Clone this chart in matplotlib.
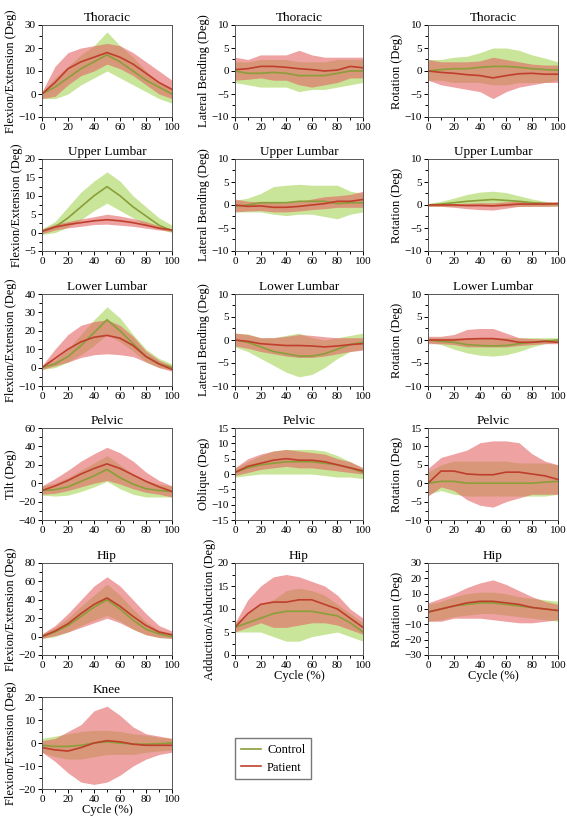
import numpy as np
import matplotlib
matplotlib.use("Agg")
import matplotlib.pyplot as plt
from matplotlib.ticker import MultipleLocator, AutoMinorLocator

plt.rcParams['font.family'] = ['Liberation Serif', 'DejaVu Serif']

cycle = [0, 10, 20, 30, 40, 50, 60, 70, 80, 90, 100]

# ---- Thoracic ----
th_fe_c = [0, 3, 7, 11, 14, 17, 14, 10, 6, 3, 0]
th_fe_c_hi = [1, 7, 12, 17, 21, 27, 21, 16, 10, 5, 2]
th_fe_c_lo = [-2, -2, 0, 4, 7, 10, 7, 4, 1, -2, -4]
th_fe_p = [0, 5, 11, 14, 16, 18, 16, 13, 9, 5, 2]
th_fe_p_hi = [1, 12, 18, 20, 21, 22, 21, 18, 14, 10, 6]
th_fe_p_lo = [-2, -1, 4, 8, 10, 13, 11, 8, 4, 0, -2]

th_lb_c = [0, -0.5, -0.5, -0.3, -0.5, -1, -1, -1, -0.5, 0, 0]
th_lb_c_hi = [2, 2, 2.5, 2.5, 2.5, 2, 2, 2, 2.5, 2.5, 2.5]
th_lb_c_lo = [-2.5, -3, -3.5, -3.5, -3.5, -4.5, -4, -4, -3.5, -3, -2.5]
th_lb_p = [0.3, 0.5, 1, 1, 0.8, 0.5, 0.3, 0, 0.2, 1, 0.7]
th_lb_p_hi = [3, 2.5, 3.5, 3.5, 3.5, 4.5, 3.5, 3, 3, 3, 3]
th_lb_p_lo = [-2, -1.8, -1.5, -2, -2, -3, -3.5, -3, -2.5, -1.5, -1.5]

th_rot_c = [0, 0.3, 0.5, 0.5, 0.8, 1, 1, 0.8, 0.5, 0.3, 0.2]
th_rot_c_hi = [2.5, 2.5, 3, 3.2, 4, 5, 5, 4.5, 3.5, 2.8, 2]
th_rot_c_lo = [-2, -2, -2.5, -2.5, -2.5, -3, -3, -2.5, -2.5, -2.5, -2]
th_rot_p = [0, -0.3, -0.5, -0.8, -1, -1.5, -1, -0.6, -0.5, -0.7, -0.7]
th_rot_p_hi = [2.5, 2, 2, 2, 2.2, 3, 2.5, 2, 1.5, 1.3, 1.3]
th_rot_p_lo = [-2, -3, -3.5, -4, -4.5, -6, -4.5, -3.5, -3, -2.5, -2.5]

# ---- Upper Lumbar ----
ul_fe_c = [0.5, 1.5, 4, 7, 10, 12.5, 10, 7, 4.5, 2, 0.5]
ul_fe_c_hi = [1, 3, 7, 11, 14, 16.5, 14, 10, 7, 4, 2]
ul_fe_c_lo = [-0.5, 0, 1.5, 3.5, 6, 8, 6, 4, 2, 1, 0]
ul_fe_p = [0.3, 1.5, 2.2, 2.7, 3.2, 3.5, 3.2, 2.7, 2, 1.2, 0.7]
ul_fe_p_hi = [1, 2.3, 3, 3.7, 4.3, 5, 4.5, 3.8, 3, 1.8, 1]
ul_fe_p_lo = [-0.3, 0.7, 1.3, 1.7, 2.2, 2.3, 2, 1.7, 1.2, 0.7, 0.3]

ul_lb_c = [-0.3, 0, 0.5, 0.5, 0.5, 0.8, 0.8, 0.8, 0.3, 0.5, 0.5]
ul_lb_c_hi = [1, 1.5, 2.5, 4, 4.3, 4.5, 4.3, 4.3, 4.3, 3, 2.5]
ul_lb_c_lo = [-1.5, -1.5, -1.5, -2, -2.3, -2, -2, -2.5, -3, -2, -1.5]
ul_lb_p = [0, -0.3, -0.2, -0.5, -0.5, -0.3, 0, 0.3, 0.8, 0.8, 1.2]
ul_lb_p_hi = [1.3, 0.8, 0.7, 0.5, 0.5, 0.8, 1.3, 1.8, 2, 2.3, 3]
ul_lb_p_lo = [-1.5, -1.3, -1.2, -1.5, -1.5, -1.3, -1, -0.8, -0.5, -0.5, -0.5]

ul_rot_c = [0, 0.2, 0.5, 0.8, 1, 1.2, 1, 0.8, 0.5, 0.3, 0.2]
ul_rot_c_hi = [0.3, 0.8, 1.5, 2.3, 2.8, 3, 2.7, 2, 1.3, 0.8, 0.5]
ul_rot_c_lo = [-0.3, -0.3, -0.3, -0.3, -0.2, -0.2, -0.3, -0.3, -0.3, -0.3, -0.3]
ul_rot_p = [0, 0, 0, -0.1, -0.1, -0.2, 0, 0.2, 0.2, 0.2, 0.3]
ul_rot_p_hi = [0.3, 0.3, 0.3, 0.4, 0.5, 0.5, 0.7, 0.8, 0.7, 0.7, 0.7]
ul_rot_p_lo = [-0.3, -0.3, -0.5, -0.8, -1, -1.1, -0.7, -0.3, -0.3, -0.3, -0.2]

# ---- Lower Lumbar ----
ll_fe_c = [0, 2, 6, 12, 19, 26, 20, 13, 6, 2, 0]
ll_fe_c_hi = [1, 4, 10, 18, 26, 33, 27, 18, 10, 5, 2]
ll_fe_c_lo = [-1, 0, 3, 7, 12, 18, 14, 9, 3, 0, -1]
ll_fe_p = [0, 5, 10, 14, 16.5, 17.5, 16, 12, 6, 2, -1]
ll_fe_p_hi = [1, 10, 18, 23, 25, 26, 23, 17, 9, 4, 1]
ll_fe_p_lo = [-1, 1, 3, 5.5, 7, 7.5, 7, 6, 3, 0, -2]

ll_lb_c = [0, -0.5, -1.5, -2.5, -3, -3.5, -3.5, -3, -2, -1, -0.5]
ll_lb_c_hi = [1.5, 1.3, 0.5, 0.5, 1, 1.5, 0.5, 0, 0.5, 1, 1.5]
ll_lb_c_lo = [-1.5, -2.5, -4, -5.5, -7, -8, -7.5, -6, -4, -2.5, -2]
ll_lb_p = [0, -0.3, -0.8, -1, -1.2, -1.2, -1.3, -1.5, -1.3, -1, -0.8]
ll_lb_p_hi = [1.5, 1.2, 0.5, 0.5, 0.8, 1.2, 1, 0.7, 0.5, 0.5, 0.5]
ll_lb_p_lo = [-1.3, -1.8, -2.5, -3, -3.5, -3.8, -3.8, -3.5, -3, -2.5, -2.2]

ll_rot_c = [0, -0.3, -0.5, -1, -1.2, -1.3, -1.2, -0.8, -0.5, -0.2, 0]
ll_rot_c_hi = [0.5, 0.5, 0.5, 0.5, 0.5, 0.5, 0.5, 0.5, 0.5, 0.5, 0.5]
ll_rot_c_lo = [-0.5, -1, -2, -2.8, -3.3, -3.5, -3.2, -2.5, -1.5, -0.8, -0.5]
ll_rot_p = [0, 0, 0, 0.2, 0.3, 0.3, 0, -0.5, -0.5, -0.3, -0.5]
ll_rot_p_hi = [0.8, 0.8, 1.2, 2.3, 2.5, 2.5, 1.5, 0.5, 0.3, 0.2, 0]
ll_rot_p_lo = [-0.8, -0.8, -1, -1.5, -1.5, -1.5, -1.5, -1.2, -1, -0.8, -0.8]

# ---- Pelvic ----
pv_tilt_c = [-8, -7, -4, 2, 8, 15, 6, -1, -6, -8, -9]
pv_tilt_c_hi = [-3, 0, 6, 14, 22, 30, 20, 10, 3, -1, -3]
pv_tilt_c_lo = [-13, -14, -13, -9, -4, 2, -6, -12, -15, -15, -15]
pv_tilt_p = [-8, -3, 3, 10, 16, 21, 16, 9, 2, -4, -9]
pv_tilt_p_hi = [-3, 5, 14, 24, 32, 39, 33, 24, 12, 3, -3]
pv_tilt_p_lo = [-12, -11, -8, -4, 0, 3, -1, -6, -10, -12, -15]

pv_obl_c = [0.5, 2, 3, 3.5, 4, 4, 4, 3.5, 3, 2, 0.5]
pv_obl_c_hi = [2, 4, 6, 7.5, 8, 8, 8, 7.5, 6, 4, 2]
pv_obl_c_lo = [-1, -0.5, 0, 0, 0, 0, 0, -0.5, -1, -1, -1.5]
pv_obl_p = [0.5, 2.5, 3.5, 4.5, 5, 4.5, 4.5, 4, 3, 2, 1]
pv_obl_p_hi = [2, 5, 6.5, 7.5, 8, 7.5, 7, 6.5, 5, 4, 2]
pv_obl_p_lo = [-0.5, 0.5, 1.5, 2, 2.5, 2, 2, 1.5, 1, 0.5, 0]

pv_rot_c = [0, 0.5, 0.5, 0, 0, 0, 0, 0, 0, 0.3, 0.5]
pv_rot_c_hi = [3, 5, 6, 6, 6, 6, 6, 5.5, 5.5, 5.5, 5]
pv_rot_c_lo = [-3, -2, -3, -3.5, -3.5, -3.5, -3.5, -3.5, -3.5, -3.5, -3]
pv_rot_p = [0, 3.3, 3.3, 2.5, 2.3, 2.3, 3, 3, 2.5, 2, 1]
pv_rot_p_hi = [4, 7, 8, 9, 11, 11.5, 11.5, 11, 8, 6, 5]
pv_rot_p_lo = [-3.5, -1, -2, -4.5, -6, -6.5, -5, -4, -3, -3, -3]

# ---- Hip ----
hp_fe_c = [0, 5, 12, 22, 32, 40, 30, 18, 8, 3, 0]
hp_fe_c_hi = [3, 10, 20, 33, 45, 57, 45, 30, 16, 7, 3]
hp_fe_c_lo = [-2, 0, 5, 12, 18, 23, 17, 8, 2, -1, -2]
hp_fe_p = [0, 6, 14, 25, 35, 42, 33, 22, 12, 5, 2]
hp_fe_p_hi = [3, 12, 25, 40, 55, 65, 55, 40, 25, 12, 6]
hp_fe_p_lo = [-2, 1, 5, 10, 15, 20, 15, 8, 2, -1, -2]

hp_aa_c = [6, 7, 8, 9, 9.5, 9.5, 9.5, 9, 8.5, 7, 5]
hp_aa_c_hi = [7, 9, 11, 12, 14, 14.5, 14, 13, 11, 9, 7]
hp_aa_c_lo = [5, 5, 5, 4, 3, 3, 4, 4.5, 5, 4, 3]
hp_aa_p = [6, 9, 11, 11.5, 11.5, 12, 12, 11, 10, 8, 6]
hp_aa_p_hi = [7, 12, 15, 17, 17.5, 17, 16, 15, 13, 10, 8]
hp_aa_p_lo = [5, 6, 7, 6, 6, 6.5, 7, 7, 6.5, 5.5, 4.5]

hp_rot_c = [-2, 0, 2, 3, 4, 4, 3, 2, 1, 0, -1]
hp_rot_c_hi = [3, 5, 8, 10, 11, 11, 10, 8, 7, 6, 5]
hp_rot_c_lo = [-8, -7, -5, -4, -3, -3, -4, -5, -6, -7, -8]
hp_rot_p = [-2, 0, 2, 4, 5, 5, 4, 3, 1, 0, -1]
hp_rot_p_hi = [4, 7, 10, 14, 17, 19, 16, 12, 8, 5, 3]
hp_rot_p_lo = [-8, -8, -6, -6, -6, -7, -8, -9, -9, -8, -7]

# ---- Knee ----
kn_fe_c = [-1, -1.5, -1.5, -1, 0, 0.5, 0, -0.5, -0.5, -0.3, 0]
kn_fe_c_hi = [2, 3, 4, 5, 5.5, 5.5, 5, 4, 3.5, 2.5, 2]
kn_fe_c_lo = [-4, -6, -7, -7, -6, -5, -5, -5, -4, -3.5, -3]
kn_fe_p = [-2, -3, -3.5, -2, 0, 1, 0.5, -0.5, -1, -1, -1]
kn_fe_p_hi = [1, 2, 5, 8, 14, 16, 12, 7, 4, 3, 2]
kn_fe_p_lo = [-4, -8, -13, -17, -18, -17, -14, -10, -7, -5, -4]

row_titles = ["Thoracic", "Upper Lumbar", "Lower Lumbar", "Pelvic", "Hip", "Knee"]

panels = [
    # row, col, ylabel, ylim, ystep, control (mean, lo, hi), patient (mean, lo, hi)
    (0, 0, "Flexion/Extension (Deg)", (-10, 30), 10, (th_fe_c, th_fe_c_lo, th_fe_c_hi), (th_fe_p, th_fe_p_lo, th_fe_p_hi)),
    (0, 1, "Lateral Bending (Deg)", (-10, 10), 5, (th_lb_c, th_lb_c_lo, th_lb_c_hi), (th_lb_p, th_lb_p_lo, th_lb_p_hi)),
    (0, 2, "Rotation (Deg)", (-10, 10), 5, (th_rot_c, th_rot_c_lo, th_rot_c_hi), (th_rot_p, th_rot_p_lo, th_rot_p_hi)),
    (1, 0, "Flexion/Extension (Deg)", (-5, 20), 5, (ul_fe_c, ul_fe_c_lo, ul_fe_c_hi), (ul_fe_p, ul_fe_p_lo, ul_fe_p_hi)),
    (1, 1, "Lateral Bending (Deg)", (-10, 10), 5, (ul_lb_c, ul_lb_c_lo, ul_lb_c_hi), (ul_lb_p, ul_lb_p_lo, ul_lb_p_hi)),
    (1, 2, "Rotation (Deg)", (-10, 10), 5, (ul_rot_c, ul_rot_c_lo, ul_rot_c_hi), (ul_rot_p, ul_rot_p_lo, ul_rot_p_hi)),
    (2, 0, "Flexion/Extension (Deg)", (-10, 40), 10, (ll_fe_c, ll_fe_c_lo, ll_fe_c_hi), (ll_fe_p, ll_fe_p_lo, ll_fe_p_hi)),
    (2, 1, "Lateral Bending (Deg)", (-10, 10), 5, (ll_lb_c, ll_lb_c_lo, ll_lb_c_hi), (ll_lb_p, ll_lb_p_lo, ll_lb_p_hi)),
    (2, 2, "Rotation (Deg)", (-10, 10), 5, (ll_rot_c, ll_rot_c_lo, ll_rot_c_hi), (ll_rot_p, ll_rot_p_lo, ll_rot_p_hi)),
    (3, 0, "Tilt (Deg)", (-40, 60), 20, (pv_tilt_c, pv_tilt_c_lo, pv_tilt_c_hi), (pv_tilt_p, pv_tilt_p_lo, pv_tilt_p_hi)),
    (3, 1, "Oblique (Deg)", (-15, 15), 5, (pv_obl_c, pv_obl_c_lo, pv_obl_c_hi), (pv_obl_p, pv_obl_p_lo, pv_obl_p_hi)),
    (3, 2, "Rotation (Deg)", (-10, 15), 5, (pv_rot_c, pv_rot_c_lo, pv_rot_c_hi), (pv_rot_p, pv_rot_p_lo, pv_rot_p_hi)),
    (4, 0, "Flexion/Extension (Deg)", (-20, 80), 20, (hp_fe_c, hp_fe_c_lo, hp_fe_c_hi), (hp_fe_p, hp_fe_p_lo, hp_fe_p_hi)),
    (4, 1, "Adduction/Abduction (Deg)", (0, 20), 5, (hp_aa_c, hp_aa_c_lo, hp_aa_c_hi), (hp_aa_p, hp_aa_p_lo, hp_aa_p_hi)),
    (4, 2, "Rotation (Deg)", (-30, 30), 10, (hp_rot_c, hp_rot_c_lo, hp_rot_c_hi), (hp_rot_p, hp_rot_p_lo, hp_rot_p_hi)),
    (5, 0, "Flexion/Extension (Deg)", (-20, 20), 10, (kn_fe_c, kn_fe_c_lo, kn_fe_c_hi), (kn_fe_p, kn_fe_p_lo, kn_fe_p_hi)),
]

W, H = 567, 822
col_left = [42, 235, 428]
col_width = [130, 128, 130]
row_top = [25, 159, 294, 428, 563, 697]
ax_h = 92

ctrl_line = '#8a9e3a'
ctrl_fill = '#a6d455'
pat_line = '#bf3f2c'
pat_fill = '#e36464'

fig = plt.figure(figsize=(W / 100, H / 100), dpi=100)

for row, col, ylab, ylim, ystep, ctrl, pat in panels:
    ax = fig.add_axes([col_left[col] / W, 1 - (row_top[row] + ax_h) / H,
                       col_width[col] / W, ax_h / H])
    ax.fill_between(cycle, ctrl[1], ctrl[2], color=ctrl_fill, alpha=0.6, lw=0)
    ax.fill_between(cycle, pat[1], pat[2], color=pat_fill, alpha=0.6, lw=0)
    ax.plot(cycle, ctrl[0], color=ctrl_line, lw=1.2, label="Control")
    ax.plot(cycle, pat[0], color=pat_line, lw=1.2, label="Patient")
    ax.set_xlim(0, 100)
    ax.set_ylim(*ylim)
    ax.xaxis.set_major_locator(MultipleLocator(20))
    ax.xaxis.set_minor_locator(AutoMinorLocator(2))
    ax.yaxis.set_major_locator(MultipleLocator(ystep))
    ax.yaxis.set_minor_locator(AutoMinorLocator(2))
    ax.tick_params(which='both', labelsize=8, length=3, width=0.7, pad=1.5)
    ax.tick_params(which='minor', length=2)
    for s in ax.spines.values():
        s.set_linewidth(0.7)
        s.set_color('#555555')
    ax.set_ylabel(ylab, fontsize=9, labelpad=1)
    ax.set_title(row_titles[row], fontsize=9.5, pad=3)
    if row == 5 or (row == 4 and col > 0):
        ax.set_xlabel("Cycle (%)", fontsize=9, labelpad=0)
    if row == 5:
        handles, labels = ax.get_legend_handles_labels()

fig.legend(handles, labels, loc='upper left',
           bbox_to_anchor=(229 / W, 1 - 732 / H), fontsize=9,
           frameon=True, fancybox=False, edgecolor='#555555',
           handlelength=1.6, handletextpad=0.5, borderpad=0.45,
           labelspacing=0.45)

fig.savefig("out.png", dpi=100)
